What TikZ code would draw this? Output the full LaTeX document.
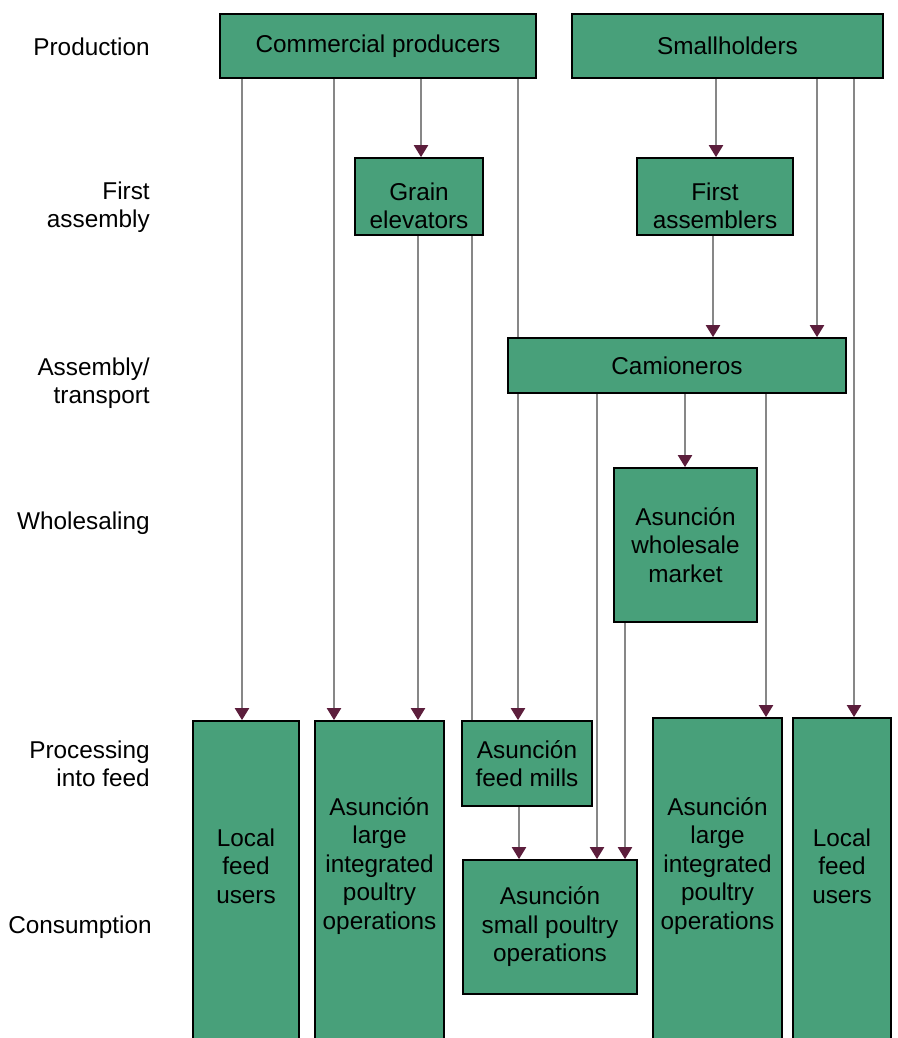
\documentclass[tikz,border=0pt]{standalone}
\usepackage{fontspec}
\setmainfont{Liberation Sans}
\usetikzlibrary{arrows.meta,backgrounds}
\definecolor{boxgreen}{RGB}{72,160,122}
\definecolor{tipred}{RGB}{92,30,60}
\definecolor{linegray}{RGB}{135,135,135}
\begin{document}
\begin{tikzpicture}[x=0.025cm,y=-0.025cm,
	box/.style={draw=black,line width=1.3pt,fill=boxgreen,align=center,inner sep=0pt},
	flow/.style={draw=linegray,line width=0.8pt,-{Triangle[width=3.6mm,length=3mm,color=tipred]}},
	link/.style={draw=linegray,line width=0.8pt},
	stage/.style={anchor=east,align=right,inner sep=0pt},
	font=\fontsize{17.3}{20.3}\selectfont]
	\useasboundingbox (0,0) rectangle (898,1038);
	\clip (0,0) rectangle (898,1038);
	% stages
	\node[stage] (prod) at (150,47) {Production};
	\node[stage] (first) at (150,207) {First\\assembly};
	\node[stage] (trans) at (150,383) {Assembly/\\transport};
	\node[stage] (whole) at (150,523) {Wholesaling};
	\node[stage] (proc) at (150,764) {Processing\\into feed};
	\node[stage] (cons) at (152,927) {Consumption};
	% boxes
	\node[box,minimum width=7.9cm,minimum height=1.6cm] (cp) at (378,46) {Commercial producers};
	\node[box,minimum width=7.775cm,minimum height=1.6cm] (sh) at (727.5,46) {Smallholders};
	\node[box,minimum width=3.2cm,minimum height=1.925cm] (ge) at (419,196.5) {};
	\node[box,minimum width=3.9cm,minimum height=1.925cm] (fa) at (715,196.5) {};
	\node[align=center] (get) at (419,206) {Grain\\elevators};
	\node[align=center] (fat) at (715,206) {First\\assemblers};
	\node[box,minimum width=8.45cm,minimum height=1.375cm] (cam) at (677,365.5) {Camioneros};
	\node[box,minimum width=3.575cm,minimum height=3.85cm] (wm) at (685.5,545) {Asunción\\wholesale\\market};
	\node[box,minimum width=3.25cm,minimum height=2.125cm] (fm) at (527,763.5) {Asunción\\feed mills};
	\node[box,minimum width=4.35cm,minimum height=3.35cm] (sp) at (550,927) {Asunción\\small poultry\\operations};
	\node[box,minimum width=2.65cm,minimum height=8.475cm] (lf1) at (246,890.5) {};
	\node[box,minimum width=3.225cm,minimum height=8.475cm] (li1) at (379.5,890.5) {};
	\node[box,minimum width=3.225cm,minimum height=8.55cm] (li2) at (717.5,889) {};
	\node[box,minimum width=2.45cm,minimum height=8.55cm] (lf2) at (842,889) {};
	\node[align=center] (lf1t) at (246,866) {Local\\feed\\users};
	\node[align=center] (li1t) at (379.5,866) {Asunción\\large\\integrated\\poultry\\operations};
	\node[align=center] (li2t) at (717.5,866) {Asunción\\large\\integrated\\poultry\\operations};
	\node[align=center] (lf2t) at (842,866) {Local\\feed\\users};
	% flows
	\begin{pgfonlayer}{background}
		\foreach \x/\a/\b in {242/cp/lf1,334/cp/li1,421/cp/ge,518/cp/fm,418/ge/li1,716/sh/fa,817/sh/cam,854/sh/lf2,713/fa/cam,519/fm/sp,597/cam/sp,685/cam/wm,766/cam/li2,625/wm/sp}
			\draw[flow] (\a.south -| \x,0) -- (\b.north -| \x,0);
		\draw[link] (ge.south -| 472,0) -- (fm.north -| 472,0);
	\end{pgfonlayer}
\end{tikzpicture}
\end{document}
